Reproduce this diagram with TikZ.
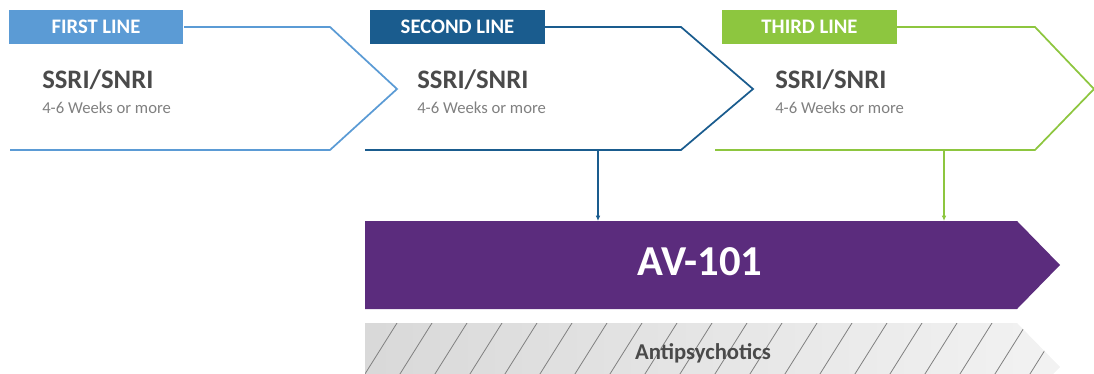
\documentclass[tikz,border=0pt]{standalone}
\usepackage{fontspec}
\setmainfont{Carlito}
\usepackage{tikz}
\usetikzlibrary{calc}
\usetikzlibrary{arrows.meta}
\definecolor{firstblue}{HTML}{5B9BD5}
\definecolor{secondblue}{HTML}{1A5C8E}
\definecolor{thirdgreen}{HTML}{8DC63F}
\definecolor{avpurple}{HTML}{5B2C7D}
\definecolor{drugtext}{HTML}{4A4A4A}
\definecolor{weektext}{HTML}{808080}
\newcommand{\lineframe}[5]{ \draw[#1, line width=1.3pt] ( #2 , 150 ) -- ( #4 , 150 ) -- ( #5 , 89 ) -- ( #4 , 27 ) -- ( #3 , 27 );}
\newcommand{\linetag}[4]{\node[tagbox, fill=#1] (#2) at ( #3 , 27 ) {#4};}
\newcommand{\drugtag}[3]{\node[drug] (#1) at ( #2 , 80 ) {SSRI/SNRI};
 \node[weeks] (#3) at ( #2 , 108 ) {4-6 Weeks or more};}
\tikzset{
  tagbox/.style={minimum width=131pt, minimum height=25.5pt, inner sep=0pt, text=white,
    font=\bfseries\fontsize{15.5}{18}\selectfont},
  drug/.style={anchor=west, inner sep=0pt, text=drugtext, font=\bfseries\fontsize{20}{24}\selectfont},
  weeks/.style={anchor=west, inner sep=0pt, text=weektext, font=\fontsize{12.5}{15}\selectfont},
  feed/.style={line width=1pt, -{Latex[length=4pt,width=3.5pt]}},
  hatch/.style={black!50, line width=0.6pt}
}

\begin{document}
\begin{tikzpicture}[x=0.75pt,y=-0.75pt]
\useasboundingbox (0,0) rectangle (1094,374);
\clip (0,0) rectangle (1094,374);
% line frames
\lineframe{firstblue}{10}{184}{330}{397}
\lineframe{secondblue}{365}{545}{681}{753}
\lineframe{thirdgreen}{715}{897}{1035}{1094}
% line tags
\linetag{firstblue}{first}{96}{FIRST LINE}
\linetag{secondblue}{second}{457.5}{SECOND LINE}
\linetag{thirdgreen}{third}{809.5}{THIRD LINE}
% drugs
\drugtag{drugone}{42}{weekone}
\drugtag{drugtwo}{417}{weektwo}
\drugtag{drugthree}{775}{weekthree}
% AV-101 bar
\fill[avpurple] (365,221) -- (1017,221) -- (1060,265) -- (1017,309) -- (365,309) -- cycle;
\node[text=white, font=\bfseries\fontsize{32}{36}\selectfont] (av) at (700,262) {AV-101};
\coordinate (bartop) at (365,221);
% feeds into the bar
\coordinate (secondfoot) at (598,150);
\coordinate (thirdfoot) at (944,150);
\draw[feed, secondblue] (secondfoot) -- (secondfoot |- bartop);
\draw[feed, thirdgreen] (thirdfoot) -- (thirdfoot |- bartop);
% antipsychotics bar
\begin{scope}
\clip (365,323) -- (1017,323) -- (1060,367) -- (1017,411) -- (365,411) -- cycle;
\shade[left color=black!15, right color=black!5] (365,323) rectangle (1060,411);
\foreach \x in {327,362,...,1100}
  \draw[hatch] (\x-61,420) -- (\x,323);
\end{scope}
\node[text=drugtext, font=\bfseries\fontsize{17}{20}\selectfont] (anti) at (703,353) {Antipsychotics};
\end{tikzpicture}
\end{document}
